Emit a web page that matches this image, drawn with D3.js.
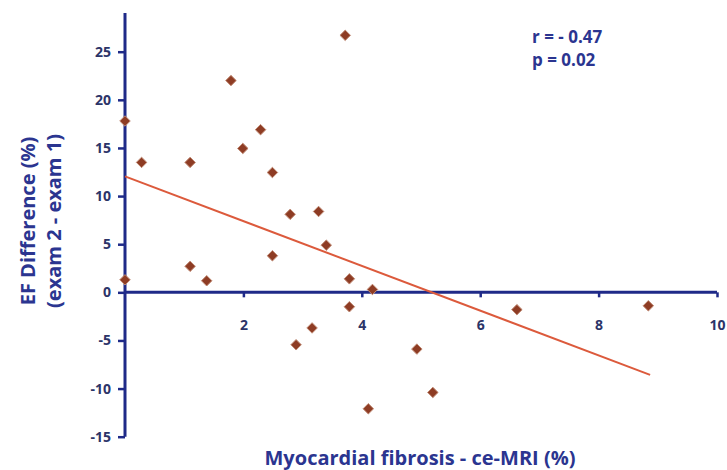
<!DOCTYPE html>
<html>
<head>
<meta charset="utf-8">
<script src="https://cdn.jsdelivr.net/npm/d3@7"></script>
<style>
  body { margin: 0; background: #fff; }
  text { font-family: "Open Sans", sans-serif; font-weight: bold; }
</style>
</head>
<body>
<div id="chart"></div>
<script>
// values
const fibrosis = [0, 0.28, 1.10, 1.79, 1.99, 2.29, 2.49, 3.72, 2.79, 3.27, 3.40, 2.49, 1.10,
  1.38, 0, 3.79, 4.18, 3.79, 3.16, 2.89, 4.11, 4.93, 5.20, 6.62, 8.84]
const efDiff = [17.8, 13.5, 13.5, 22.0, 14.95, 16.9, 12.45, 26.7, 8.1, 8.4, 4.9, 3.8, 2.7,
  1.2, 1.3, 1.4, 0.3, -1.5, -3.7, -5.45, -12.1, -5.9, -10.4, -1.8, -1.4]
const trendX = [0, 8.87]
const trendY = [12.05, -8.58]
const xTicks = [2, 4, 6, 8, 10]
const yTicks = [-15, -10, -5, 0, 5, 10, 15, 20, 25]
const stats = ['r = - 0.47', 'p = 0.02']

const width = 727
const height = 470
const navy = '#1f2a88'
const textCol = '#2b3590'
const tickCol = '#2c3468'

const svg = d3.select('#chart')
  .append('svg')
    .attr('width', width)
    .attr('height', height)

const xScale = d3.scaleLinear().domain([0, 10]).range([125, 717])
const yScale = d3.scaleLinear().domain([-15, 25]).range([436.7, 51.7])

// y axis
const yAxis = svg.append('g')
  .attr('transform', 'translate(' + xScale(0) + ',0)')
  .call(d3.axisLeft(yScale).tickValues(yTicks).tickSize(7).tickPadding(7)
    .tickFormat(d => String(d)))
yAxis.select('.domain').remove()
yAxis.append('line')
  .attr('x1', 0).attr('x2', 0)
  .attr('y1', yScale(-15)).attr('y2', 13)
  .attr('stroke', navy).attr('stroke-width', 3)
yAxis.selectAll('.tick line').attr('stroke', navy).attr('stroke-width', 2.5)
yAxis.selectAll('.tick text')
  .attr('fill', tickCol)
  .style('font-size', '14px')
  .style('font-family', '"Open Sans", sans-serif')

// x axis sits on zero
const xAxis = svg.append('g')
  .attr('transform', 'translate(0,' + yScale(0) + ')')
  .call(d3.axisBottom(xScale).tickValues(xTicks).tickSize(5).tickPadding(23)
    .tickFormat(d => String(d)))
xAxis.select('.domain').remove()
xAxis.append('line')
  .attr('x1', xScale(0)).attr('x2', xScale(10))
  .attr('y1', 0).attr('y2', 0)
  .attr('stroke', navy).attr('stroke-width', 3)
xAxis.selectAll('.tick line').attr('stroke', navy).attr('stroke-width', 2.5)
xAxis.selectAll('.tick text')
  .attr('fill', tickCol)
  .style('font-size', '14px')
  .style('font-family', '"Open Sans", sans-serif')

// trend line
svg.append('line')
  .attr('x1', xScale(trendX[0])).attr('y1', yScale(trendY[0]))
  .attr('x2', xScale(trendX[1])).attr('y2', yScale(trendY[1]))
  .attr('stroke', '#dc5a3c')
  .attr('stroke-width', 2)

// diamonds
const pts = fibrosis.map((f, i) => ({ x: f, y: efDiff[i] }))
svg.selectAll('.pt')
  .data(pts)
  .enter()
  .append('path')
    .attr('class', 'pt')
    .attr('d', d3.symbol().type(d3.symbolDiamond2).size(70))
    .attr('transform', d => 'translate(' + xScale(d.x) + ',' + yScale(d.y) + ')')
    .attr('fill', '#8e3c24')
    .attr('stroke', '#c08a74')
    .attr('stroke-width', 1)

// titles
svg.append('text')
  .attr('x', 420)
  .attr('y', 465)
  .attr('text-anchor', 'middle')
  .attr('fill', textCol)
  .style('font-size', '20px')
  .text('Myocardial fibrosis - ce-MRI (%)')

svg.append('text')
  .attr('transform', 'translate(35,221) rotate(-90)')
  .attr('text-anchor', 'middle')
  .attr('fill', textCol)
  .style('font-size', '20px')
  .text('EF Difference (%)')

svg.append('text')
  .attr('transform', 'translate(61,221) rotate(-90)')
  .attr('text-anchor', 'middle')
  .attr('fill', textCol)
  .style('font-size', '20px')
  .text('(exam 2 - exam 1)')

svg.selectAll('.stat')
  .data(stats)
  .enter()
  .append('text')
    .attr('class', 'stat')
    .attr('x', 532)
    .attr('y', (d, i) => 43 + i * 23)
    .attr('fill', textCol)
    .style('font-size', '17px')
    .text(d => d)
</script>
</body>
</html>
